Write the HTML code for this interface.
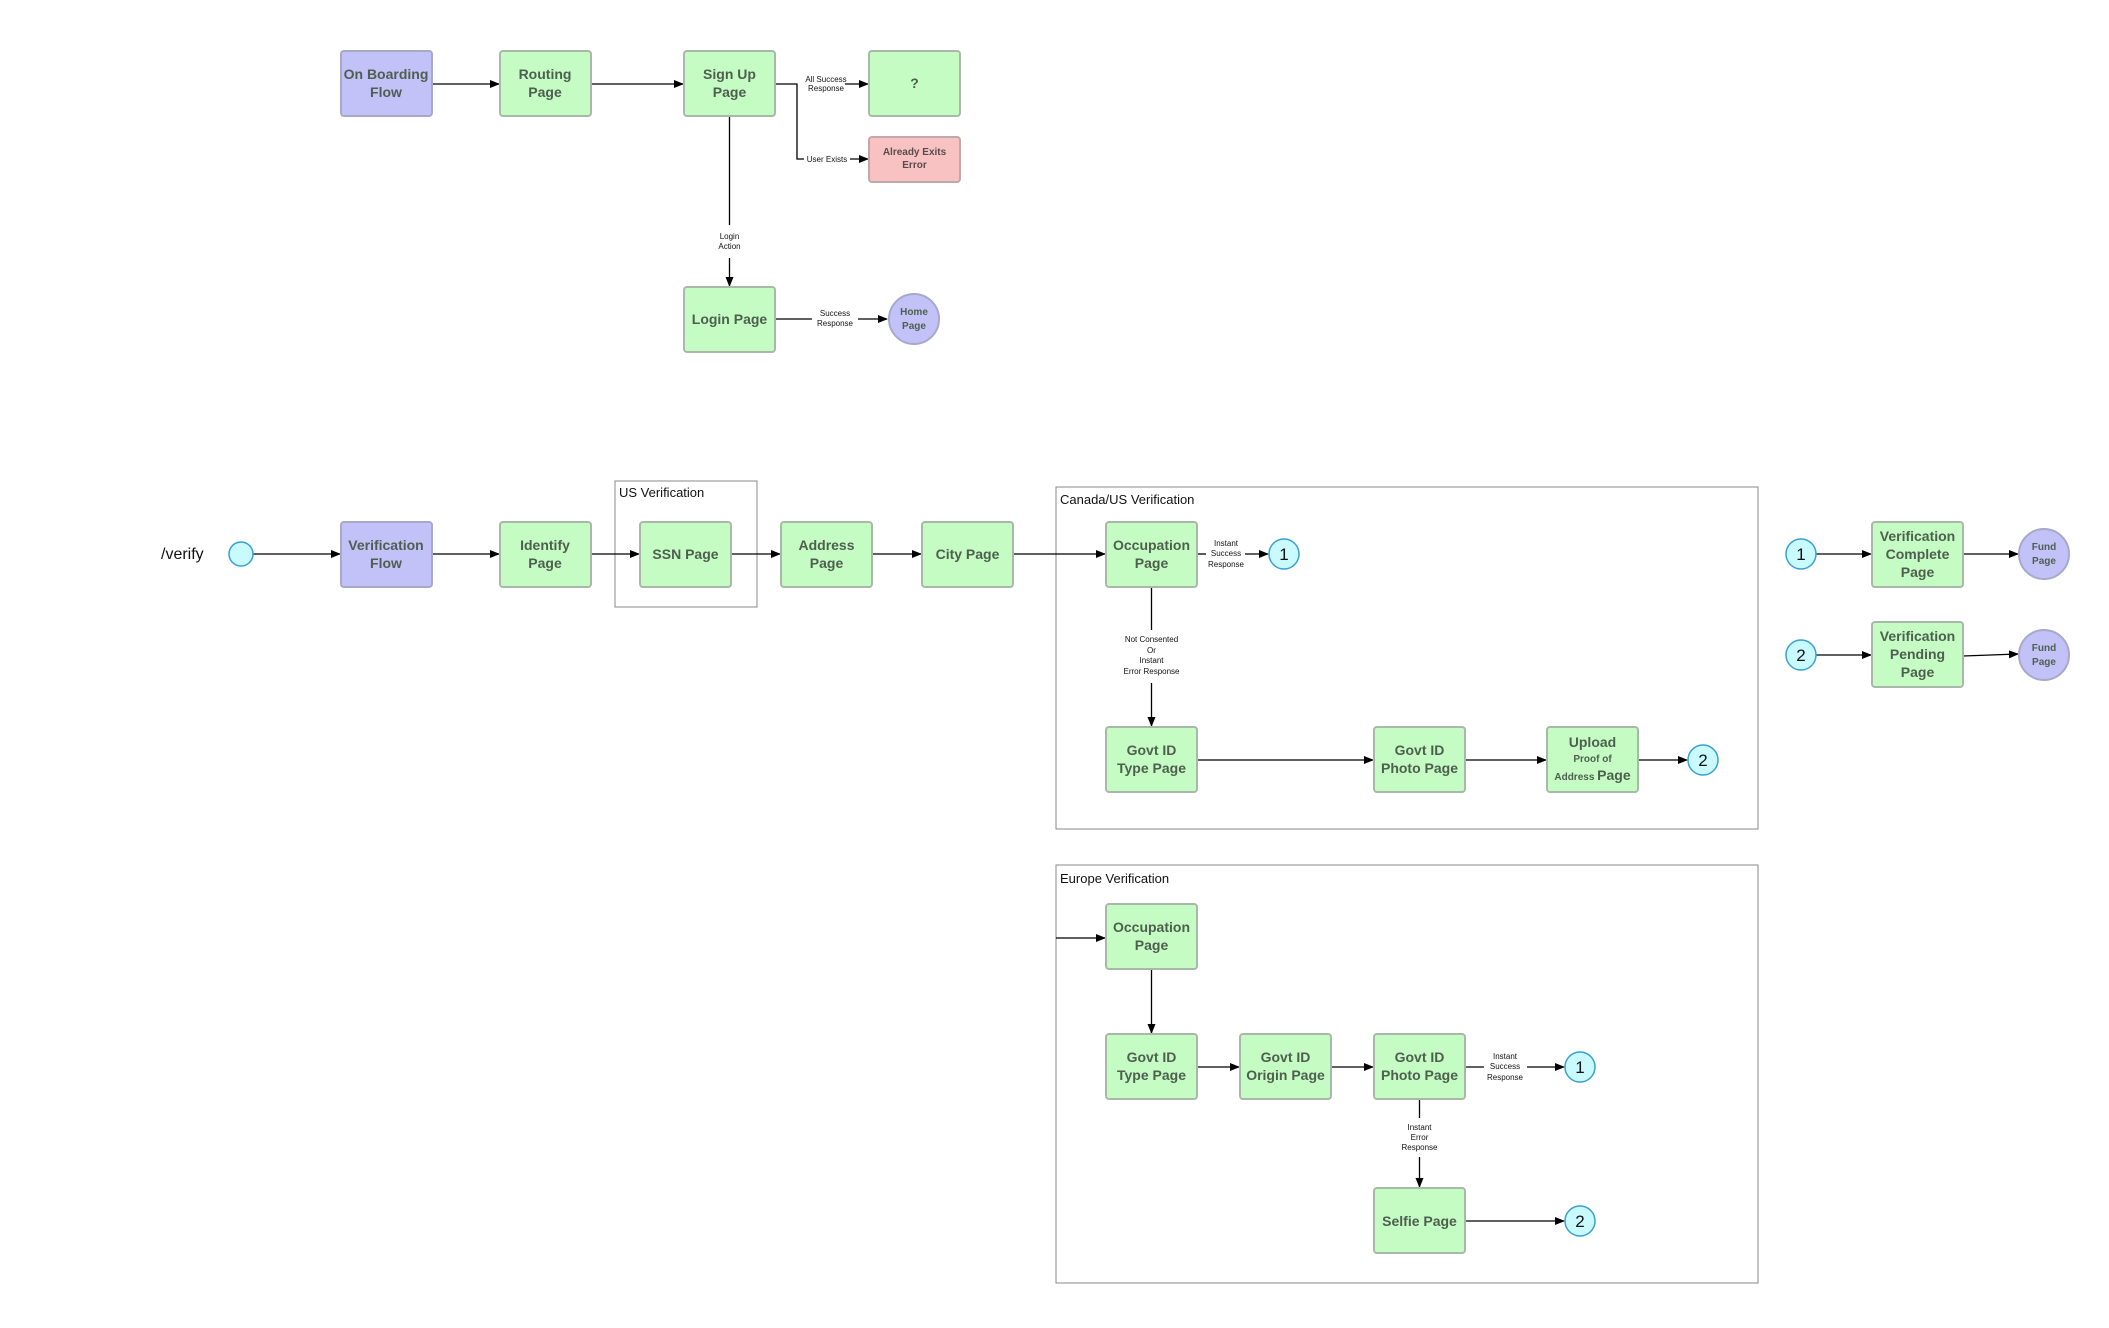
<!DOCTYPE html>
<html><head><meta charset="utf-8"><style>
html,body{margin:0;padding:0;background:#fff;}
svg{display:block;}
.b{font-family:"Liberation Sans",sans-serif;font-weight:bold;font-size:14px;fill:#4f5f4f;text-anchor:middle;}
.s{font-family:"Liberation Sans",sans-serif;font-size:8px;fill:#111;text-anchor:middle;}
.t{font-family:"Liberation Sans",sans-serif;font-size:13px;fill:#111;}
.g{fill:#c4fcc4;stroke:#a9b9a9;stroke-width:2;}
.p{fill:#c2c2f8;stroke:#a8a8c8;stroke-width:2;}
.r{fill:#f8c2c2;stroke:#c0a8a8;stroke-width:2;}
.c{fill:#c8fafe;stroke:#3aa0d0;stroke-width:1.5;}
.l{stroke:#000;stroke-width:1.3;fill:none;}
.n{font-family:"Liberation Sans",sans-serif;font-size:17px;fill:#111;text-anchor:middle;}
</style></head><body>
<svg width="2109" height="1328" viewBox="0 0 2109 1328" xmlns="http://www.w3.org/2000/svg">
<defs><marker id="a" markerWidth="10" markerHeight="8" refX="9" refY="4" orient="auto" markerUnits="userSpaceOnUse"><path d="M0,0 L10,4 L0,8 z" fill="#000"/></marker></defs>

<!-- group boxes -->
<rect x="615" y="481" width="142" height="126" fill="none" stroke="#888" stroke-width="1"/>
<text class="t" x="619" y="497">US Verification</text>
<rect x="1056" y="487" width="702" height="342" fill="none" stroke="#888" stroke-width="1"/>
<text class="t" x="1060" y="504">Canada/US Verification</text>
<rect x="1056" y="865" width="702" height="418" fill="none" stroke="#888" stroke-width="1"/>
<text class="t" x="1060" y="883">Europe Verification</text>

<!-- top edges -->
<g class="l">
<line x1="432" y1="84" x2="499" y2="84" marker-end="url(#a)"/>
<line x1="591" y1="84" x2="683" y2="84" marker-end="url(#a)"/>
<polyline points="775,84 797,84 797,159 804,159"/>
<line x1="845" y1="84" x2="868" y2="84" marker-end="url(#a)"/>
<line x1="850" y1="159" x2="868" y2="159" marker-end="url(#a)"/>
<line x1="729.5" y1="116" x2="729.5" y2="225"/>
<line x1="729.5" y1="258" x2="729.5" y2="286" marker-end="url(#a)"/>
<line x1="775" y1="319" x2="812" y2="319"/>
<line x1="858" y1="319" x2="887" y2="319" marker-end="url(#a)"/>
</g>
<text class="s" x="826" y="82">All Success</text><text class="s" x="826" y="91">Response</text>
<text class="s" x="827" y="162">User Exists</text>
<text class="s" x="729.5" y="239">Login</text><text class="s" x="729.5" y="249">Action</text>
<text class="s" x="835" y="316">Success</text><text class="s" x="835" y="326">Response</text>

<!-- middle edges -->
<g class="l">
<line x1="253" y1="554" x2="340" y2="554" marker-end="url(#a)"/>
<line x1="432" y1="554" x2="499" y2="554" marker-end="url(#a)"/>
<line x1="591" y1="554" x2="639" y2="554" marker-end="url(#a)"/>
<line x1="731" y1="554" x2="780" y2="554" marker-end="url(#a)"/>
<line x1="872" y1="554" x2="921" y2="554" marker-end="url(#a)"/>
<line x1="1013" y1="554" x2="1105" y2="554" marker-end="url(#a)"/>
<line x1="1197" y1="554" x2="1206" y2="554"/>
<line x1="1245" y1="554" x2="1268" y2="554" marker-end="url(#a)"/>
<line x1="1151.5" y1="587" x2="1151.5" y2="630"/>
<line x1="1151.5" y1="683" x2="1151.5" y2="726" marker-end="url(#a)"/>
<line x1="1197" y1="760" x2="1373" y2="760" marker-end="url(#a)"/>
<line x1="1465" y1="760" x2="1546" y2="760" marker-end="url(#a)"/>
<line x1="1638" y1="760" x2="1687" y2="760" marker-end="url(#a)"/>
<line x1="1816" y1="554" x2="1871" y2="554" marker-end="url(#a)"/>
<line x1="1963" y1="554" x2="2018" y2="554" marker-end="url(#a)"/>
<line x1="1816" y1="655" x2="1871" y2="655" marker-end="url(#a)"/>
<line x1="1963" y1="656" x2="2018" y2="654" marker-end="url(#a)"/>
<!-- europe -->
<line x1="1056" y1="938" x2="1105" y2="938" marker-end="url(#a)"/>
<line x1="1151.5" y1="969" x2="1151.5" y2="1033" marker-end="url(#a)"/>
<line x1="1197" y1="1067" x2="1239" y2="1067" marker-end="url(#a)"/>
<line x1="1331" y1="1067" x2="1373" y2="1067" marker-end="url(#a)"/>
<line x1="1465" y1="1067" x2="1484" y2="1067"/>
<line x1="1527" y1="1067" x2="1564" y2="1067" marker-end="url(#a)"/>
<line x1="1419.5" y1="1099" x2="1419.5" y2="1118"/>
<line x1="1419.5" y1="1157" x2="1419.5" y2="1187" marker-end="url(#a)"/>
<line x1="1465" y1="1221" x2="1564" y2="1221" marker-end="url(#a)"/>
</g>
<text class="s" x="1226" y="546">Instant</text><text class="s" x="1226" y="556">Success</text><text class="s" x="1226" y="567">Response</text>
<text class="s" x="1151.5" y="642">Not Consented</text><text class="s" x="1151.5" y="653">Or</text><text class="s" x="1151.5" y="663">Instant</text><text class="s" x="1151.5" y="674">Error Response</text>
<text class="s" x="1505" y="1059">Instant</text><text class="s" x="1505" y="1069">Success</text><text class="s" x="1505" y="1080">Response</text>
<text class="s" x="1419.5" y="1130">Instant</text><text class="s" x="1419.5" y="1140">Error</text><text class="s" x="1419.5" y="1150">Response</text>

<!-- top nodes -->
<rect class="p" x="341" y="51" width="91" height="65" rx="3"/><text class="b" x="386" y="79">On Boarding</text><text class="b" x="386" y="97">Flow</text>
<rect class="g" x="500" y="51" width="91" height="65" rx="3"/><text class="b" x="545" y="79">Routing</text><text class="b" x="545" y="97">Page</text>
<rect class="g" x="684" y="51" width="91" height="65" rx="3"/><text class="b" x="729.5" y="79">Sign Up</text><text class="b" x="729.5" y="97">Page</text>
<rect class="g" x="869" y="51" width="91" height="65" rx="3"/><text class="b" x="914.5" y="88">?</text>
<rect class="r" x="869" y="137" width="91" height="45" rx="3"/><text class="b" x="914.5" y="155" style="font-size:10px;fill:#5a4a4a">Already Exits</text><text class="b" x="914.5" y="168" style="font-size:10px;fill:#5a4a4a">Error</text>
<rect class="g" x="684" y="287" width="91" height="65" rx="3"/><text class="b" x="729.5" y="324">Login Page</text>
<circle class="p" cx="914" cy="319" r="25"/><text class="b" x="914" y="315" style="font-size:10px">Home</text><text class="b" x="914" y="329" style="font-size:10px">Page</text>

<!-- middle nodes -->
<text class="t" x="161" y="559" style="font-size:16px">/verify</text>
<circle class="c" cx="241" cy="554" r="12"/>
<rect class="p" x="341" y="522" width="91" height="65" rx="3"/><text class="b" x="386" y="550">Verification</text><text class="b" x="386" y="568">Flow</text>
<rect class="g" x="500" y="522" width="91" height="65" rx="3"/><text class="b" x="545" y="550">Identify</text><text class="b" x="545" y="568">Page</text>
<rect class="g" x="640" y="522" width="91" height="65" rx="3"/><text class="b" x="685.5" y="559">SSN Page</text>
<rect class="g" x="781" y="522" width="91" height="65" rx="3"/><text class="b" x="826.5" y="550">Address</text><text class="b" x="826.5" y="568">Page</text>
<rect class="g" x="922" y="522" width="91" height="65" rx="3"/><text class="b" x="967.5" y="559">City Page</text>
<rect class="g" x="1106" y="522" width="91" height="65" rx="3"/><text class="b" x="1151.5" y="550">Occupation</text><text class="b" x="1151.5" y="568">Page</text>
<circle class="c" cx="1284" cy="554" r="15"/><text class="n" x="1284" y="560">1</text>
<rect class="g" x="1106" y="727" width="91" height="65" rx="3"/><text class="b" x="1151.5" y="755">Govt ID</text><text class="b" x="1151.5" y="773">Type Page</text>
<rect class="g" x="1374" y="727" width="91" height="65" rx="3"/><text class="b" x="1419.5" y="755">Govt ID</text><text class="b" x="1419.5" y="773">Photo Page</text>
<rect class="g" x="1547" y="727" width="91" height="65" rx="3"/><text class="b" x="1592.5" y="747">Upload</text><text class="b" x="1592.5" y="762" style="font-size:10px">Proof of</text><text class="b" x="1592.5" y="780"><tspan style="font-size:10px">Address </tspan>Page</text>
<circle class="c" cx="1703" cy="760" r="15"/><text class="n" x="1703" y="766">2</text>

<!-- right -->
<circle class="c" cx="1801" cy="554" r="15"/><text class="n" x="1801" y="560">1</text>
<rect class="g" x="1872" y="522" width="91" height="65" rx="3"/><text class="b" x="1917.5" y="541">Verification</text><text class="b" x="1917.5" y="559">Complete</text><text class="b" x="1917.5" y="577">Page</text>
<circle class="p" cx="2044" cy="554" r="25"/><text class="b" x="2044" y="550" style="font-size:10px">Fund</text><text class="b" x="2044" y="564" style="font-size:10px">Page</text>
<circle class="c" cx="1801" cy="655" r="15"/><text class="n" x="1801" y="661">2</text>
<rect class="g" x="1872" y="622" width="91" height="65" rx="3"/><text class="b" x="1917.5" y="641">Verification</text><text class="b" x="1917.5" y="659">Pending</text><text class="b" x="1917.5" y="677">Page</text>
<circle class="p" cx="2044" cy="655" r="25"/><text class="b" x="2044" y="651" style="font-size:10px">Fund</text><text class="b" x="2044" y="665" style="font-size:10px">Page</text>

<!-- europe nodes -->
<rect class="g" x="1106" y="904" width="91" height="65" rx="3"/><text class="b" x="1151.5" y="932">Occupation</text><text class="b" x="1151.5" y="950">Page</text>
<rect class="g" x="1106" y="1034" width="91" height="65" rx="3"/><text class="b" x="1151.5" y="1062">Govt ID</text><text class="b" x="1151.5" y="1080">Type Page</text>
<rect class="g" x="1240" y="1034" width="91" height="65" rx="3"/><text class="b" x="1285.5" y="1062">Govt ID</text><text class="b" x="1285.5" y="1080">Origin Page</text>
<rect class="g" x="1374" y="1034" width="91" height="65" rx="3"/><text class="b" x="1419.5" y="1062">Govt ID</text><text class="b" x="1419.5" y="1080">Photo Page</text>
<circle class="c" cx="1580" cy="1067" r="15"/><text class="n" x="1580" y="1073">1</text>
<rect class="g" x="1374" y="1188" width="91" height="65" rx="3"/><text class="b" x="1419.5" y="1226">Selfie Page</text>
<circle class="c" cx="1580" cy="1221" r="15"/><text class="n" x="1580" y="1227">2</text>
</svg>
</body></html>
